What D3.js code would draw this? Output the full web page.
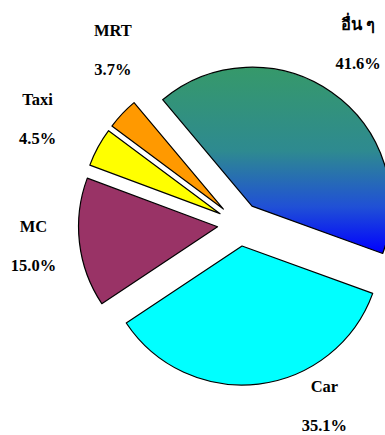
<!DOCTYPE html>
<html>
<head>
<meta charset="utf-8">
<script src="https://cdn.jsdelivr.net/npm/d3@7"></script>
<style>
  html, body { margin: 0; padding: 0; background: #ffffff; }
  svg { display: block; }
</style>
</head>
<body>
<div id="chart"></div>
<script>
// Mode share (percent) by travel mode
const categories = ["อื่น ๆ", "Car", "MC", "Taxi", "MRT"];
const shares = [41.6, 35.1, 15.0, 4.5, 3.7];
const fills = ["url(#othersGrad)", "#00ffff", "#993366", "#ffff00", "#ff9900"];

const width = 385, height = 435;
const cx = 239.4, cy = 224.2;
const radius = 139;
const explode = 22;
const startDeg = -40;
const labelFont = "'Times New Roman', 'Liberation Serif', 'DejaVu Serif', serif";

// Label placement around each slice: angular shift (deg) and distance from centre
const labelAngleShift = [-1.8, -18.3, 0.7, -0.8, 10.8];
const labelDistance = [217, 200, 207, 228, 216];
const lineGap = 39;

const rad = d => d * Math.PI / 180;

const svg = d3.select("#chart").append("svg")
  .attr("width", width).attr("height", height);

const defs = svg.append("defs");
const grad = defs.append("linearGradient")
  .attr("id", "othersGrad")
  .attr("gradientUnits", "objectBoundingBox")
  .attr("x1", 0).attr("y1", 0).attr("x2", 0).attr("y2", 1);
[[0, "#36996a"], [0.45, "#2e8a90"], [0.75, "#2050d6"], [1, "#0000ff"]]
  .forEach(([o, c]) => grad.append("stop").attr("offset", o).attr("stop-color", c));

const pie = d3.pie().sort(null).value(d => d)
  .startAngle(rad(startDeg)).endAngle(rad(startDeg + 360));
const arcs = pie(shares);

const arc = d3.arc().innerRadius(0).outerRadius(radius);

const g = svg.append("g").attr("transform", `translate(${cx},${cy})`);

g.selectAll("path.slice")
  .data(arcs)
  .join("path")
  .attr("class", "slice")
  .attr("transform", d => {
    const a = (d.startAngle + d.endAngle) / 2;
    return `translate(${explode * Math.sin(a)},${-explode * Math.cos(a)})`;
  })
  .attr("d", arc)
  .attr("fill", (d, i) => fills[i])
  .attr("stroke", "#000")
  .attr("stroke-width", 1.2)
  .attr("stroke-linejoin", "round");

const fmt = v => d3.format(".1f")(v) + "%";

const labels = g.selectAll("g.label")
  .data(arcs)
  .join("g")
  .attr("class", "label")
  .attr("transform", (d, i) => {
    const a = (d.startAngle + d.endAngle) / 2 + rad(labelAngleShift[i]);
    const r = labelDistance[i];
    return `translate(${r * Math.sin(a)},${-r * Math.cos(a)})`;
  });

labels.append("text")
  .attr("text-anchor", "middle")
  .attr("y", -13)
  .attr("font-family", labelFont)
  .attr("font-weight", "bold")
  .attr("font-size", 16.5)
  .attr("fill", "#000")
  .text((d, i) => categories[i]);

labels.append("text")
  .attr("text-anchor", "middle")
  .attr("y", -13 + lineGap)
  .attr("font-family", labelFont)
  .attr("font-weight", "bold")
  .attr("font-size", 16.5)
  .attr("fill", "#000")
  .text(d => fmt(d.data));
</script>
</body>
</html>
